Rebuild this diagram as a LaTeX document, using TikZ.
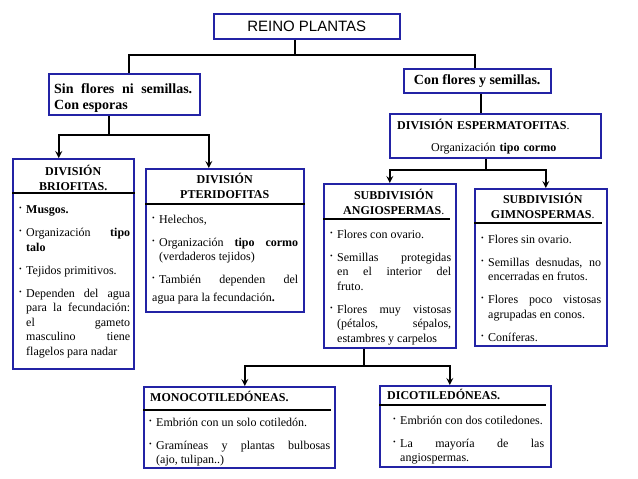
\documentclass[tikz,border=0pt]{standalone}
\usepackage{fontspec}
\setmainfont{Liberation Serif}
\newfontfamily\arialfont{Liberation Sans}
\definecolor{boxblue}{RGB}{35,35,165}
\newcommand\bulbox{\makebox[7pt][l]{\raisebox{2.8pt}{\fontsize{7.5}{7.5}\selectfont\textbullet}}}
\newcommand\bulA{\leftskip=7pt\noindent\hspace*{-7pt}\bulbox}
\newcommand\bul{\par\vspace{8.5pt}\bulA}
\newcommand\bulB{\par\vspace{8.5pt}\leftskip=0pt\noindent\bulbox}
\tikzset{
  box/.style={draw=boxblue, line width=1.5pt, inner sep=0pt, anchor=north west},
  head/.style={inner sep=0pt, align=center, font=\bfseries\fontsize{12}{15}\selectfont},
  bodytext/.style={inner sep=0pt, anchor=north west, align=justify, font=\fontsize{12}{14.5}\selectfont},
  sepline/.style={line width=1.5pt},
  conn/.style={line width=2pt},
  arr/.style={conn, ->}
}
\begin{document}
\begin{tikzpicture}[x=1pt, y=-1pt, >=stealth]
\useasboundingbox (0,0) rectangle (638,479);

% boxes
\node[box, minimum width=186pt, minimum height=25pt, font=\arialfont\fontsize{15}{18}\selectfont] (reino) at (213,13) {REINO PLANTAS};
\node[box, minimum width=151pt, minimum height=41pt] (sinflores) at (48,73) {};
\node[box, minimum width=147pt, minimum height=24pt, font=\bfseries\fontsize{14}{16}\selectfont] (conflores) at (403,68) {Con flores y semillas.};
\node[box, minimum width=211pt, minimum height=44pt] (esperm) at (389,113) {};
\node[box, minimum width=121pt, minimum height=210pt] (brio) at (12,158) {};
\node[box, minimum width=158pt, minimum height=143pt] (pteri) at (145,168) {};
\node[box, minimum width=132pt, minimum height=164pt] (angio) at (323,183) {};
\node[box, minimum width=132pt, minimum height=157pt] (gimno) at (474,188) {};
\node[box, minimum width=191pt, minimum height=81pt] (mono) at (143,386) {};
\node[box, minimum width=171pt, minimum height=81pt] (dico) at (379,385) {};

% texts of the upper boxes
\node[bodytext, text width=138pt, font=\bfseries\fontsize{14}{16}\selectfont] (sintext) at (54,83)
  {Sin flores ni semillas.\linebreak Con esporas};
\node[bodytext, align=left, text width=205pt] (espermtext) at (397,119.5)
  {\textbf{DIVISIÓN ESPERMATOFITAS}.\\[7pt]\hspace*{34pt}Organización \textbf{tipo cormo}};

% headers
\node[head, anchor=north] (briohead) at ([yshift=-7pt]brio.north) {DIVISIÓN\\BRIOFITAS.};
\node[head, anchor=north] (pterihead) at ([yshift=-5pt]pteri.north) {DIVISIÓN\\PTERIDOFITAS};
\node[head, anchor=north] (angiohead) at ([xshift=4pt,yshift=-6pt]angio.north) {SUBDIVISIÓN\\ANGIOSPERMAS{\mdseries .}};
\node[head, anchor=north] (gimnohead) at ([xshift=2pt,yshift=-5pt]gimno.north) {SUBDIVISIÓN\\GIMNOSPERMAS{\mdseries .}};
\node[head, anchor=north west] (monohead) at ([xshift=7pt,yshift=-5.5pt]mono.north west) {MONOCOTILEDÓNEAS.};
\node[head, anchor=north west] (dicohead) at ([xshift=8pt,yshift=-4.5pt]dico.north west) {DICOTILEDÓNEAS.};

% separators
\draw[sepline] ([yshift=-35pt]brio.north west) -- ([yshift=-35pt]brio.north east);
\draw[sepline] ([yshift=-36pt]pteri.north west) -- ([yshift=-36pt]pteri.north east);
\draw[sepline] ([yshift=-36pt]angio.north west) -- ([xshift=-7pt,yshift=-36pt]angio.north east);
\draw[sepline] ([yshift=-35pt]gimno.north west) -- ([xshift=-6pt,yshift=-35pt]gimno.north east);
\draw[sepline] ([yshift=-24pt]mono.north west) -- ([xshift=-5pt,yshift=-24pt]mono.north east);
\draw[sepline] ([yshift=-20pt]dico.north west) -- ([xshift=-6pt,yshift=-20pt]dico.north east);

% bodies
\node[bodytext, text width=111pt] (briotext) at ([xshift=7pt,yshift=-47.5pt]brio.north west)
  {\bulA\textbf{Musgos.}
   \bul Organización \textbf{tipo}\linebreak \textbf{talo}
   \bul Tejidos primitivos.
   \bul Dependen del agua\linebreak para la fecundación:\linebreak el gameto\linebreak masculino tiene\linebreak flagelos para nadar\par};
\node[bodytext, text width=146pt] (pteritext) at ([xshift=7pt,yshift=-46.5pt]pteri.north west)
  {\bulA Helechos,
   \bul Organización \textbf{tipo cormo}\linebreak (verdaderos tejidos)
   \bulB También dependen del\rule[-9pt]{0pt}{9pt}\linebreak agua para la fecundación\textbf{.}\par};
\node[bodytext, text width=121pt] (angiotext) at ([xshift=7pt,yshift=-46.5pt]angio.north west)
  {\bulA Flores con ovario.
   \bul Semillas protegidas\linebreak en el interior del\linebreak fruto.
   \bul Flores muy vistosas\linebreak (pétalos, sépalos,\linebreak estambres y carpelos\par};
\node[bodytext, text width=120pt] (gimnotext) at ([xshift=7pt,yshift=-46.5pt]gimno.north west)
  {\bulA Flores sin ovario.
   \bul Semillas desnudas, no\linebreak encerradas en frutos.
   \bul Flores poco vistosas\linebreak agrupadas en conos.
   \bul Coníferas.\par};
\node[bodytext, text width=181pt] (monotext) at ([xshift=6pt,yshift=-31.5pt]mono.north west)
  {\bulA Embrión con un solo cotiledón.
   \bul Gramíneas y plantas bulbosas\linebreak (ajo, tulipan..)\par};
\node[bodytext, text width=151pt] (dicotext) at ([xshift=14pt,yshift=-30.5pt]dico.north west)
  {\bulA Embrión con dos cotiledones.
   \bul La mayoría de las\linebreak angiospermas.\par};

% connectors
\draw[conn] ([xshift=-12pt]reino.south) -- ++(0,15) coordinate (reinoj) -| ([xshift=4.5pt]sinflores.north);
\draw[conn] (reinoj) -| ([xshift=-2.5pt]conflores.north);
\draw[conn] ([xshift=3.5pt]conflores.south) -- ([xshift=3.5pt]conflores.south |- esperm.north);
\draw[arr] ([xshift=-15.5pt]sinflores.south) -- ++(0,19) coordinate (sinj) -| ([xshift=-14.5pt]brio.north);
\draw[arr] (sinj) -| ([xshift=-16pt]pteri.north);
\draw[conn] ([xshift=-9.5pt]esperm.south) -- ++(0,11) coordinate (espj);
\draw[arr] (espj) -| (angio.north);
\draw[arr] (espj) -| ([xshift=5pt]gimno.north);
\draw[conn] ([xshift=-26pt]angio.south) -- ++(0,17) coordinate (angj);
\draw[arr] (angj) -| ([xshift=5.5pt]mono.north);
\draw[arr] (angj) -| ([xshift=-15.5pt]dico.north);

\end{tikzpicture}
\end{document}
